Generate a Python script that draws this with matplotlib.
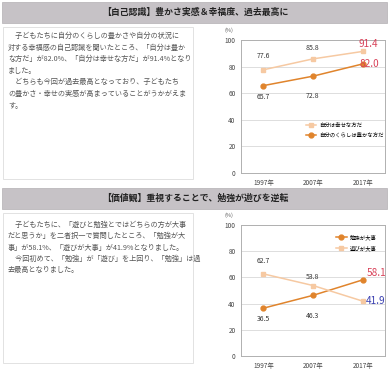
import matplotlib
matplotlib.use('Agg')
import matplotlib.pyplot as plt
from matplotlib.patches import Rectangle

plt.rcParams['font.family'] = ['Noto Sans CJK JP', 'DejaVu Sans']

# data
years = ['1997年', '2007年', '2017年']
happy = [77.6, 85.8, 91.4]        # 自分は幸せな方だ
rich = [65.7, 72.8, 82.0]         # 自分のくらしは豊かな方だ
study = [36.5, 46.3, 58.1]        # 勉強が大事
play = [62.7, 53.8, 41.9]         # 遊びが大事
yticks = [0, 20, 40, 60, 80, 100]

title1 = '【自己認識】豊かさ実感＆幸福度、過去最高に'
title2 = '【価値観】重視することで、勉強が遊びを逆転'
text1 = ['　子どもたちに自分のくらしの豊かさや自分の状況に',
         '対する幸福感の自己認識を聞いたところ、「自分は豊か',
         'な方だ」が82.0%、「自分は幸せな方だ」が91.4%となり',
         'ました。',
         '　どちらも今回が過去最高となっており、子どもたち',
         'の豊かさ・幸せの実感が高まっていることがうかがえま',
         'す。']
text2 = ['　子どもたちに、「遊びと勉強とではどちらの方が大事',
         'だと思うか」を二者択一で質問したところ、「勉強が大',
         '事」が58.1%、「遊びが大事」が41.9%となりました。',
         '　今回初めて、「勉強」が「遊び」を上回り、「勉強」は過',
         '去最高となりました。']

W, H = 390, 370
light = '#f6c9a2'
dark = '#e0842c'
red = '#d8435a'
blue = '#3a3fb0'

fig = plt.figure(figsize=(W / 100, H / 100), dpi=100)


def px(x, y):
    # pixel coords (top-left origin) to figure fraction
    return x / W, 1 - y / H


def rect_px(x0, y0, x1, y1):
    return [x0 / W, 1 - y1 / H, (x1 - x0) / W, (y1 - y0) / H]


def banner(y0, y1, title):
    fig.patches.append(Rectangle(px(2, y1), 385 / W, (y1 - y0) / H, transform=fig.transFigure,
                                 facecolor='#c6c2c6', edgecolor='#b4b0b4', lw=0.5))
    fig.text(*px(195, (y0 + y1) / 2), title, ha='center', va='center',
             fontsize=6.4, fontweight='bold', color='#222222')


def textbox(y0, y1, lines, ystart, step):
    fig.patches.append(Rectangle(px(3, y1), 190 / W, (y1 - y0) / H, transform=fig.transFigure,
                                 facecolor='white', edgecolor='#dddddd', lw=0.6))
    for i, s in enumerate(lines):
        fig.text(*px(8, ystart + i * step), s, ha='left', va='center',
                 fontsize=5.15, color='#555555')


def chart(y0, y1, s_dark, s_light, lab_dark, lab_light, leg_order, leg_anchor):
    ax = fig.add_axes(rect_px(241, y0, 385, y1))
    x = range(len(years))
    l1, = ax.plot(x, s_dark, color=dark, marker='o', ms=3.5, lw=1.1, label=lab_dark)
    l2, = ax.plot(x, s_light, color=light, marker='s', ms=3.2, lw=1.1, label=lab_light)
    ax.set_xlim(-0.45, 2.45)
    ax.set_ylim(0, 100)
    ax.set_yticks(yticks)
    ax.set_xticks(list(x))
    ax.set_xticklabels(years)
    ax.tick_params(length=0, labelsize=4.6, colors='#444444', pad=4)
    ax.yaxis.grid(True, color='#d8d8d8', lw=0.6)
    ax.set_axisbelow(True)
    for sp in ax.spines.values():
        sp.set_color('#b0b0b0')
        sp.set_linewidth(0.7)
    fig.text(*px(229, y0 - 10), '(%)', fontsize=4, color='#555555', ha='center', va='center')
    handles = [l1, l2] if leg_order == 'dark' else [l2, l1]
    ax.legend(handles=handles, loc='upper left', bbox_to_anchor=leg_anchor, frameon=False,
              fontsize=3.9, handlelength=2.0, labelspacing=0.9, borderpad=0, handletextpad=0.5)
    return ax


# section 1
banner(2, 23, title1)
textbox(27, 179, text1, 36, 11.6)
ax1 = chart(40, 173, rich, happy, '自分のくらしは豊かな方だ', '自分は幸せな方だ', 'light', (0.43, 0.40))
for i, off in [(0, 10), (1, 8)]:
    ax1.annotate(f'{happy[i]:.1f}', (i, happy[i]), xytext=(0, off), textcoords='offset points',
                 ha='center', va='center', fontsize=5, color='#333333')
for i, off in [(0, -8), (1, -14)]:
    ax1.annotate(f'{rich[i]:.1f}', (i, rich[i]), xytext=(0, off), textcoords='offset points',
                 ha='center', va='center', fontsize=5, color='#333333')
ax1.annotate(f'{happy[2]:.1f}', (2, happy[2]), xytext=(-3, 5), textcoords='offset points',
             ha='left', va='center', fontsize=7.2, color=red)
ax1.annotate(f'{rich[2]:.1f}', (2, rich[2]), xytext=(-2, 0), textcoords='offset points',
             ha='left', va='center', fontsize=7.2, color=red)

# section 2
banner(188, 209, title2)
textbox(213, 363, text2, 225, 11.3)
ax2 = chart(225, 356, study, play, '勉強が大事', '遊びが大事', 'dark', (0.64, 0.95))
ax2.annotate(f'{play[0]:.1f}', (0, play[0]), xytext=(0, 9), textcoords='offset points',
             ha='center', va='center', fontsize=5, color='#333333')
ax2.annotate(f'{play[1]:.1f}', (1, play[1]), xytext=(0, 6), textcoords='offset points',
             ha='center', va='center', fontsize=5, color='#333333')
ax2.annotate(f'{study[0]:.1f}', (0, study[0]), xytext=(0, -8), textcoords='offset points',
             ha='center', va='center', fontsize=5, color='#333333')
ax2.annotate(f'{study[1]:.1f}', (1, study[1]), xytext=(0, -15), textcoords='offset points',
             ha='center', va='center', fontsize=5, color='#333333')
ax2.annotate(f'{study[2]:.1f}', (2, study[2]), xytext=(3, 5), textcoords='offset points',
             ha='left', va='center', fontsize=7.2, color=red)
ax2.annotate(f'{play[2]:.1f}', (2, play[2]), xytext=(2, 0), textcoords='offset points',
             ha='left', va='center', fontsize=7.2, color=blue)

fig.savefig('out.png', dpi=100)
